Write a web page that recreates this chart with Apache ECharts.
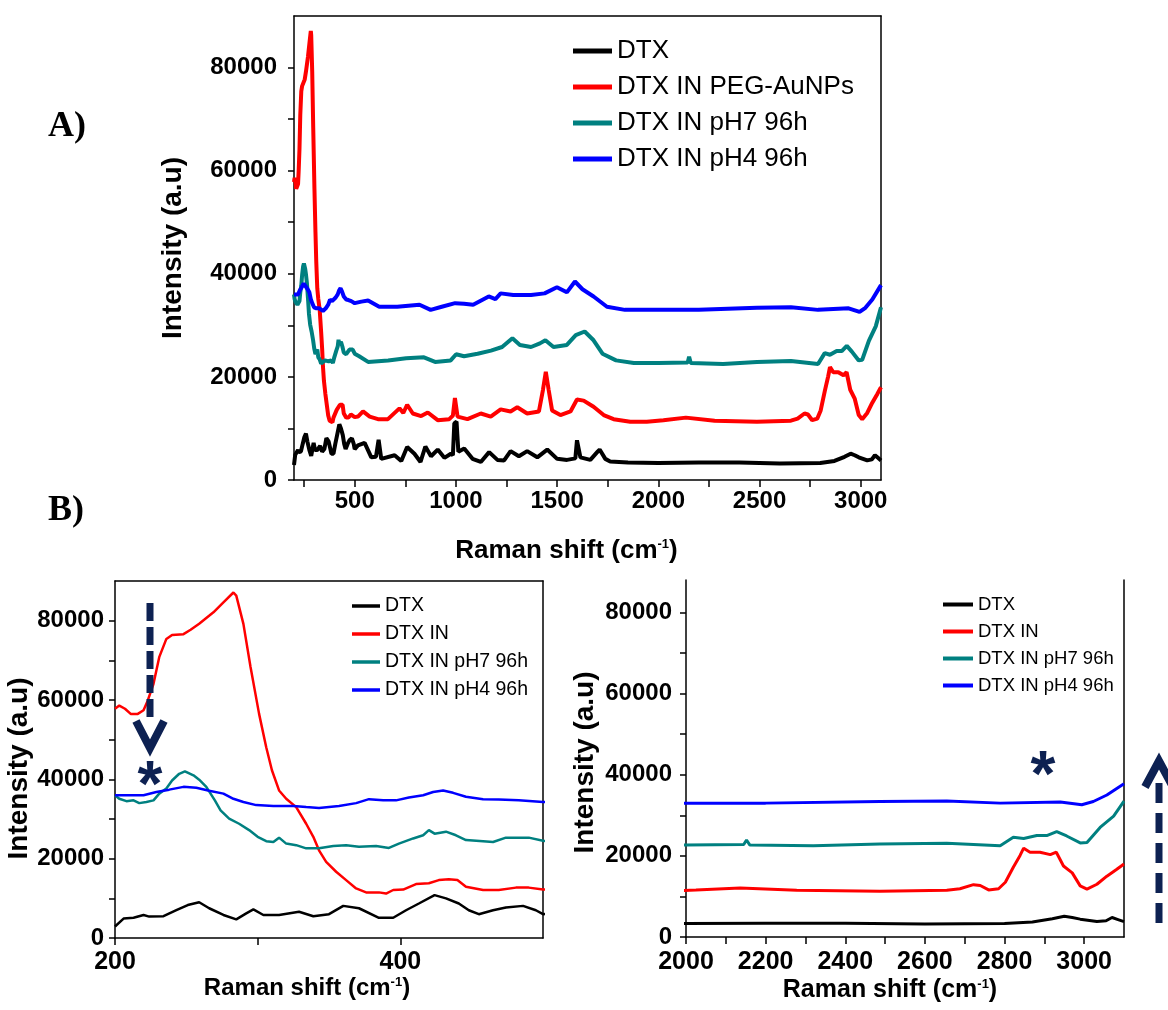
<!DOCTYPE html>
<html><head><meta charset="utf-8">
<script src="https://cdn.jsdelivr.net/npm/echarts@6/dist/echarts.min.js"></script>
<style>html,body{margin:0;padding:0;background:#fff}#c{width:1168px;height:1010px}</style>
</head><body><div id="c"></div>
<script>
// ---------- DATA (Raman shift in cm-1, intensity in a.u.) ----------
const dtxShift = [200,206,213,220,224,234,243,251,259,266,276,285,292,297,304,315,329,339,350,360,371,385,395,404,413,424,432,441,448,455,465,474,486,495,500,516,549,582,605,618,631,697,730,759,795,825,849,877,910,943,975,985,992,1003,1012,1041,1082,1123,1164,1205,1238,1270,1311,1352,1402,1451,1500,1549,1590,1598,1615,1664,1700,1710,1738,1762,1850,2000,2200,2400,2600,2800,2870,2920,2950,2970,2990,3032,3055,3070,3085,3100];
const dtxInt = [2900,4900,5100,5800,5400,5500,7000,8300,9000,7500,5800,4700,6200,7200,5800,5800,6600,5500,6000,8100,7500,5100,5100,7000,8700,10800,10000,8700,7000,6000,7000,7700,8100,7000,6000,6700,7200,4400,4500,7800,4100,4800,3700,6400,5100,3500,6500,4600,5900,4300,5100,4800,11000,11300,5500,6100,4100,3500,5400,3900,3800,5600,4600,5600,4400,5900,4100,3900,4200,7700,4400,3900,5500,5900,4100,3600,3400,3300,3400,3400,3200,3300,3700,4500,5100,4800,4400,3800,4000,4800,4300,3800];

const pegShift = [200,203,207,211,216,220,223,227,231,236,240,248,253,259,269,276,283,285,290,295,301,306,310,315,320,327,334,339,343,348,355,362,369,376,385,390,395,402,411,420,427,434,440,446,458,469,481,490,500,516,541,574,615,664,721,740,759,787,828,861,910,967,985,995,1008,1057,1123,1172,1221,1270,1303,1352,1410,1430,1444,1458,1475,1516,1566,1598,1631,1680,1730,1779,1861,1943,2025,2136,2278,2487,2655,2688,2722,2739,2760,2785,2802,2822,2839,2848,2864,2889,2915,2930,2948,2970,2990,3007,3032,3057,3082,3100];
const pegInt = [57800,58600,57800,56500,56500,57400,59900,64100,70800,75400,76400,76600,77700,79200,82100,84600,87100,86300,79200,68300,56500,48100,42300,37200,35100,33000,28800,25500,22100,19200,16700,14600,12500,11500,11500,11200,12100,12200,13600,13800,14600,14800,14600,12900,12100,12100,12700,12700,12200,12300,13300,12300,11800,11800,13900,13000,14600,12900,12400,13100,11600,11800,12500,15900,12300,11800,12900,12300,13700,13300,14100,12900,13300,17500,21000,17500,13500,12600,13300,15600,15400,14200,12600,11800,11300,11300,11600,12100,11500,11300,11500,11900,12900,12700,11600,11900,13500,17200,20100,21900,20900,20900,20300,20900,17500,15800,12600,11800,13000,15000,16700,18000];

const ph7Shift = [200,203,208,213,217,222,227,231,236,240,245,249,255,259,264,270,274,280,287,294,300,306,311,315,320,327,334,343,353,362,371,383,392,399,409,416,420,424,432,439,446,458,465,474,490,500,522,566,665,754,842,897,974,1001,1040,1107,1173,1228,1279,1316,1371,1415,1442,1482,1548,1592,1636,1680,1724,1791,1879,2000,2145,2152,2160,2320,2487,2655,2789,2822,2848,2881,2906,2931,2956,2990,3007,3040,3074,3100];
const ph7Int = [36000,35100,34500,34700,34000,34300,34700,36400,37700,39700,41400,42000,41000,39900,38100,34700,32200,30100,28800,27200,25500,24400,24200,25300,23800,23400,22600,22600,23200,23400,23000,23200,22700,23800,25100,25900,27200,26300,26800,25900,24700,24400,24200,25300,25300,24500,24000,22900,23200,23600,23800,22900,23200,24400,24000,24500,25100,25800,27500,26200,25800,26500,27100,25800,26200,28100,28800,27100,24500,23200,22700,22700,22800,23900,22700,22500,22900,23100,22500,24600,24300,25000,25000,26000,24900,23200,23300,27000,29800,33500];

const ph4Shift = [200,210,220,229,238,248,257,266,276,283,290,299,311,325,334,343,357,369,378,388,397,406,416,423,430,437,446,458,469,483,500,533,566,621,710,820,875,930,996,1040,1085,1162,1195,1221,1283,1371,1438,1499,1548,1588,1625,1680,1746,1835,2000,2200,2487,2655,2789,2940,2994,3023,3057,3100];
const ph4Int = [36000,36000,36000,36800,37400,38100,37900,37100,36400,35100,34300,33500,33300,33300,33000,32800,33300,34000,35000,34700,34700,35400,36000,36800,37200,36600,35600,35000,34900,34700,34300,34600,34800,33600,33600,34000,33000,33600,34300,34200,34000,35600,35100,36200,35900,35900,36200,37400,36400,38500,37000,35600,33600,33000,33000,33000,33400,33500,33000,33300,32600,33400,35000,37800];

const namesA = ['DTX','DTX IN PEG-AuNPs','DTX IN pH7 96h','DTX IN pH4 96h'];
const namesB = ['DTX','DTX IN','DTX IN pH7 96h','DTX IN pH4 96h'];
const colors = ['#000000','#ff0000','#008080','#0000ff'];

const ticksA_x = [250,500,750,1000,1250,1500,1750,2000,2250,2500,2750,3000];
const labelsA_x = [500,1000,1500,2000,2500,3000];
const ticksBL_x = [200,300,400];
const labelsBL_x = [200,400];
const ticksBR_x = [2000,2100,2200,2300,2400,2500,2600,2700,2800,2900,3000];
const labelsBR_x = [2000,2200,2400,2600,2800,3000];
const ticksY = [0,10000,20000,30000,40000,50000,60000,70000,80000];
const labelsY = [0,20000,40000,60000,80000];

// ---------- BUILD ----------
const FONT = 'Liberation Sans';
const ZW = '\u200B';
const zip = (xs, ys) => xs.slice(0, Math.min(xs.length, ys.length)).map((x, i) => [x, ys[i]]);
const shifts = [dtxShift, pegShift, ph7Shift, ph4Shift];
const ints = [dtxInt, pegInt, ph7Int, ph4Int];
const axLine = {show:true, onZero:false, lineStyle:{color:'#000', width:1.5}};

function xMain(gi, min, max, ticks, labels, fs, margin, gap, pad, titleFs) {
  return {
    gridIndex: gi, type:'value', min, max, position:'bottom',
    axisLine: axLine,
    axisTick: {show:true, length:7, customValues: ticks, lineStyle:{color:'#000', width:1.5}},
    axisLabel: {show:true, customValues: labels, formatter: v => String(v), fontSize: fs, fontWeight:'bold', fontFamily: FONT, color:'#000', margin},
    splitLine: {show:false},
    name: '{t|Raman shift (cm}{s|-1}{t|)}', nameLocation:'middle', nameGap: gap,
    nameTextStyle: {padding: pad, rich: {
      t: {fontSize: titleFs, fontWeight:'bold', fontFamily: FONT, color:'#000'},
      s: {fontSize: 13, fontWeight:'bold', fontFamily: FONT, color:'#000', verticalAlign:'top'}
    }}
  };
}
function border(gi, pos, min, max) {
  return {gridIndex: gi, type:'value', min, max, position: pos, axisLine: axLine,
    axisTick:{show:false}, axisLabel:{show:false}, splitLine:{show:false}};
}
function yMain(gi, max, margin, gap, pad, fs) {
  return {
    gridIndex: gi, type:'value', min:0, max, position:'left',
    axisLine: axLine,
    axisTick: {show:true, length:6, customValues: ticksY, lineStyle:{color:'#000', width:1.5}},
    axisLabel: {show:true, customValues: labelsY, formatter: v => String(v), fontSize: 24, fontWeight:'bold', fontFamily: FONT, color:'#000', margin},
    splitLine: {show:false},
    name: 'Intensity (a.u)', nameLocation:'middle', nameRotate: 90, nameGap: gap,
    nameTextStyle: {fontSize: fs, fontWeight:'bold', fontFamily: FONT, color:'#000', padding: pad}
  };
}

const series = [];
for (let i = 0; i < 4; i++) {
  const d = zip(shifts[i], ints[i]);
  series.push({type:'line', name: namesA[i], xAxisIndex:0, yAxisIndex:0, data:d, symbol:'none', showSymbol:false, clip:true,
    lineStyle:{color:colors[i], width:4}, itemStyle:{color:colors[i]}});
  series.push({type:'line', name: namesB[i] + ZW, xAxisIndex:2, yAxisIndex:2, data:d, symbol:'none', showSymbol:false, clip:true,
    lineStyle:{color:colors[i], width:2.5}, itemStyle:{color:colors[i]}});
  series.push({type:'line', name: namesB[i] + ZW, xAxisIndex:4, yAxisIndex:4, data:d, symbol:'none', showSymbol:false, clip:true,
    lineStyle:{color:colors[i], width:3}, itemStyle:{color:colors[i]}});
}

const NAVY = '#0d2152';
const option = {
  backgroundColor: '#fff',
  animation: false,
  grid: [
    {left:294, top:16, width:587, height:464},
    {left:115, top:581, width:428, height:357},
    {left:686, top:580, width:438, height:357}
  ],
  xAxis: [
    xMain(0, 200, 3100, ticksA_x, labelsA_x, 24, 9, 58, [0,42,0,0], 26),
    border(0, 'top', 200, 3100),
    xMain(1, 200, 500, ticksBL_x, labelsBL_x, 25, 12, 36, [0,44,0,0], 24),
    border(1, 'top', 200, 500),
    xMain(2, 2000, 3100, ticksBR_x, labelsBR_x, 25, 13, 41, [0,30,0,0], 25)
  ],
  yAxis: [
    yMain(0, 90000, 17, 107, [0,0,0,0], 28),
    border(0, 'right', 0, 90000),
    yMain(1, 90000, 11, 78, [0,18,0,0], 28),
    border(1, 'right', 0, 90000),
    yMain(2, 88000, 14, 87, [0,8,0,0], 28),
    border(2, 'right', 0, 88000)
  ],
  legend: [
    {orient:'vertical', left:573, top:38, padding:0, icon:'rect', itemWidth:39, itemHeight:5, itemGap:10,
      data: namesA, selectedMode:false,
      textStyle:{fontSize:26, fontFamily:FONT, color:'#000'}},
    {orient:'vertical', left:352, top:596, padding:0, icon:'rect', itemWidth:28, itemHeight:3.5, itemGap:8,
      data: namesB.map(n => n + ZW), selectedMode:false,
      textStyle:{fontSize:19.5, fontFamily:FONT, color:'#000'}},
    {orient:'vertical', left:943, top:595, padding:0, icon:'rect', itemWidth:30, itemHeight:4, itemGap:8,
      data: namesB.map(n => n + ZW), selectedMode:false,
      textStyle:{fontSize:18.5, fontFamily:FONT, color:'#000'}}
  ],
  graphic: [
    {type:'text', x:48, y:127, z:100, style:{text:'A)', font:'bold 36px "Liberation Serif"', fill:'#000', textAlign:'left', textVerticalAlign:'middle'}},
    {type:'text', x:48, y:511, z:100, style:{text:'B)', font:'bold 36px "Liberation Serif"', fill:'#000', textAlign:'left', textVerticalAlign:'middle'}},
    {type:'line', z:100, shape:{x1:150, y1:603, x2:150, y2:722}, style:{stroke:NAVY, lineWidth:7, lineDash:[18,6]}},
    {type:'polyline', z:100, shape:{points:[[136,721],[150,748],[164,721]]}, style:{stroke:NAVY, lineWidth:8, fill:null}},
    {type:'text', x:150, y:788, z:100, style:{text:'*', font:'bold 64px "Liberation Sans"', fill:NAVY, textAlign:'center', textVerticalAlign:'middle'}},
    {type:'line', z:100, shape:{x1:1159, y1:923, x2:1159, y2:777}, style:{stroke:NAVY, lineWidth:7, lineDash:[20,10]}},
    {type:'polyline', z:100, shape:{points:[[1145,787],[1159,761],[1173,787]]}, style:{stroke:NAVY, lineWidth:8, fill:null}},
    {type:'text', x:1043, y:778, z:100, style:{text:'*', font:'bold 64px "Liberation Sans"', fill:NAVY, textAlign:'center', textVerticalAlign:'middle'}}
  ],
  series
};
const chart = echarts.init(document.getElementById('c'), null, {renderer:'canvas'});
chart.setOption(option);
</script></body></html>
